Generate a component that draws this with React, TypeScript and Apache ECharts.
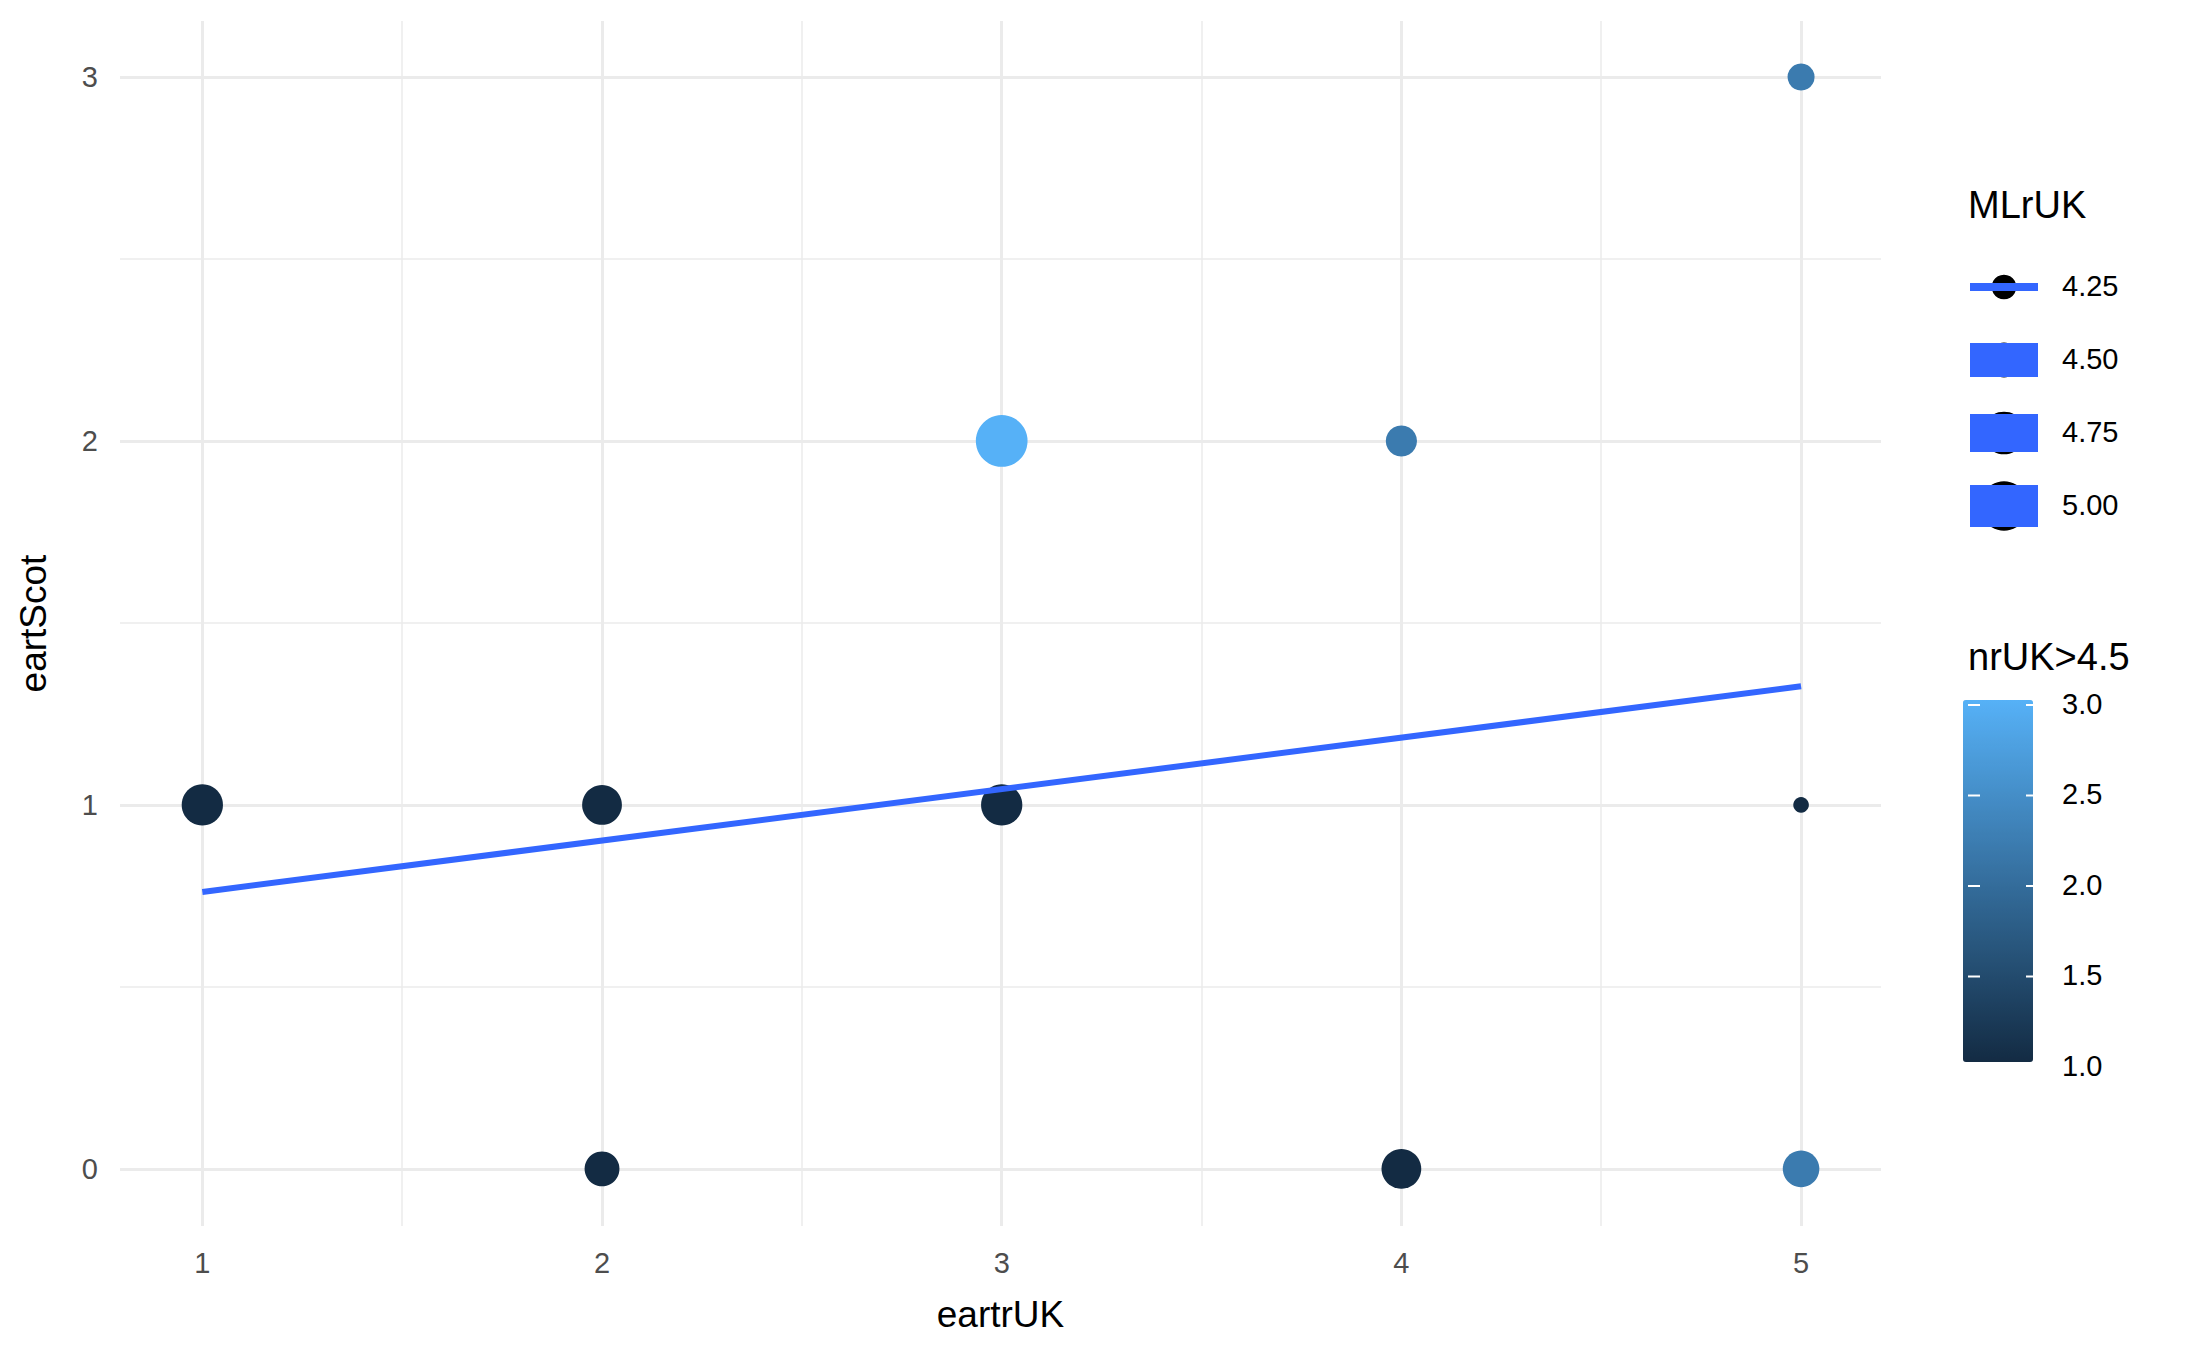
import { useRef, useEffect } from "react";
import * as echarts from "echarts";

const eartrUK = [1, 2, 3, 3, 4, 5, 5, 2, 4, 5];
const eartScot = [1, 1, 1, 2, 2, 3, 1, 0, 0, 0];
const nrUK = [1.0, 1.0, 1.0, 3.0, 2.2, 2.2, 1.0, 1.0, 1.0, 2.2];
const MLrUK = [4.7, 4.65, 4.7, 5.1, 4.4, 4.3, 4.1, 4.5, 4.65, 4.55];
const xTicks = [1, 2, 3, 4, 5];
const yTicks = [0, 1, 2, 3];
const xMinor = [1.5, 2.5, 3.5, 4.5];
const yMinor = [0.5, 1.5, 2.5];
const sizeBreaks = [4.25, 4.5, 4.75, 5.0];
const colorBreaks = [1.0, 1.5, 2.0, 2.5, 3.0];

const sizeOf = (v: number) => 2.6 * Math.sqrt(Math.max(v - 4.0, 0.02) * 360);

// least squares fit
const n = eartrUK.length;
const mx = eartrUK.reduce((a, b) => a + b, 0) / n;
const my = eartScot.reduce((a, b) => a + b, 0) / n;
let sxy = 0, sxx = 0;
for (let i = 0; i < n; i++) {
  sxy += (eartrUK[i] - mx) * (eartScot[i] - my);
  sxx += (eartrUK[i] - mx) ** 2;
}
const slope = sxy / sxx;
const icpt = my - slope * mx;
const fitX = [Math.min(...eartrUK), Math.max(...eartrUK)];

const GRID = "#EBEBEB";
const FONT = "Liberation Sans, Arial, sans-serif";

const App = () => {
  const chartRef = useRef<HTMLDivElement>(null);

  useEffect(() => {
    document.body.style.margin = "0";
    const chart = echarts.init(chartRef.current, null, { renderer: "svg" });

    const barTop = 705, barH = 362, barLeft = 1968;
    const graphics: any[] = [
      { type: "text", left: 1968, top: 186, style: { text: "MLrUK", font: `38px ${FONT}`, fill: "#000" } },
      { type: "text", left: 1968, top: 638, style: { text: "nrUK>4.5", font: `38px ${FONT}`, fill: "#000" } },
    ];
    sizeBreaks.forEach((b, i) => {
      const cy = 287 + i * 73;
      const h = i === 0 ? 8 : 30 + i * 4;
      const r = sizeOf(b) / 2;
      graphics.push({ type: "circle", z: 1, shape: { cx: 2004, cy, r }, style: { fill: "#000" } });
      graphics.push({ type: "rect", z: 2, shape: { x: 1970, y: cy - h / 2, width: 68, height: h }, style: { fill: "#3366FF" } });
      graphics.push({ type: "text", left: 2062, top: cy - 16, style: { text: b.toFixed(2), font: `29px ${FONT}`, fill: "#000" } });
    });
    colorBreaks.forEach((b) => {
      const y = barTop + barH - ((b - 1) / 2) * barH;
      graphics.push({ type: "line", z: 10, shape: { x1: barLeft, y1: y, x2: barLeft + 12, y2: y }, style: { stroke: "#fff", lineWidth: 2 } });
      graphics.push({ type: "line", z: 10, shape: { x1: barLeft + 58, y1: y, x2: barLeft + 70, y2: y }, style: { stroke: "#fff", lineWidth: 2 } });
      graphics.push({ type: "text", left: 2062, top: y - 16, style: { text: b.toFixed(1), font: `29px ${FONT}`, fill: "#000" } });
    });

    const lineData = (vals: number[], axis: string) => vals.map((v) => ({ [axis]: v }));

    chart.setOption({
      animation: false,
      backgroundColor: "#fff",
      grid: { left: 120, right: 306, top: 21, bottom: 124 },
      xAxis: {
        type: "value", min: 0.794, max: 5.2,
        name: "eartrUK", nameLocation: "middle", nameGap: 70,
        nameTextStyle: { fontSize: 37, color: "#000", fontFamily: FONT },
        axisLine: { show: false }, axisTick: { show: false }, splitLine: { show: false },
        axisLabel: { customValues: xTicks, fontSize: 29, color: "#4D4D4D", margin: 22, fontFamily: FONT },
      },
      yAxis: {
        type: "value", min: -0.157, max: 3.154,
        name: "eartScot", nameLocation: "middle", nameGap: 68,
        nameTextStyle: { fontSize: 37, color: "#000", fontFamily: FONT },
        axisLine: { show: false }, axisTick: { show: false }, splitLine: { show: false },
        axisLabel: { customValues: yTicks, fontSize: 29, color: "#4D4D4D", margin: 22, fontFamily: FONT },
      },
      visualMap: {
        type: "continuous", min: 1, max: 3, dimension: 2, seriesIndex: 1,
        inRange: { color: ["#132B43", "#56B1F7"] },
        left: barLeft - 5, top: barTop - 5, itemWidth: 70, itemHeight: barH, padding: 0,
        calculable: false, text: ["", ""], showLabel: false, textStyle: { fontSize: 0 },
      },
      graphic: graphics,
      series: [
        {
          type: "scatter", data: [], z: 0, silent: true,
          markLine: {
            symbol: "none", silent: true, label: { show: false }, z: 0,
            data: [
              ...lineData(xMinor, "xAxis").map((d) => ({ ...d, lineStyle: { color: GRID, width: 1.5, type: "solid" } })),
              ...lineData(yMinor, "yAxis").map((d) => ({ ...d, lineStyle: { color: GRID, width: 1.5, type: "solid" } })),
              ...lineData(xTicks, "xAxis").map((d) => ({ ...d, lineStyle: { color: GRID, width: 3, type: "solid" } })),
              ...lineData(yTicks, "yAxis").map((d) => ({ ...d, lineStyle: { color: GRID, width: 3, type: "solid" } })),
            ],
          },
        },
        {
          type: "scatter", z: 5,
          data: eartrUK.map((x, i) => [x, eartScot[i], nrUK[i], MLrUK[i]]),
          symbolSize: (d: number[]) => sizeOf(d[3]),
          itemStyle: { opacity: 1 },
        },
        {
          type: "line", z: 6, symbol: "none", silent: true,
          data: fitX.map((x) => [x, icpt + slope * x]),
          lineStyle: { color: "#3366FF", width: 6 },
        },
      ],
    });

    return () => {
      chart.dispose();
    };
  }, []);

  return <div ref={chartRef} style={{ width: "2187px", height: "1350px" }}></div>;
};

export default App;
